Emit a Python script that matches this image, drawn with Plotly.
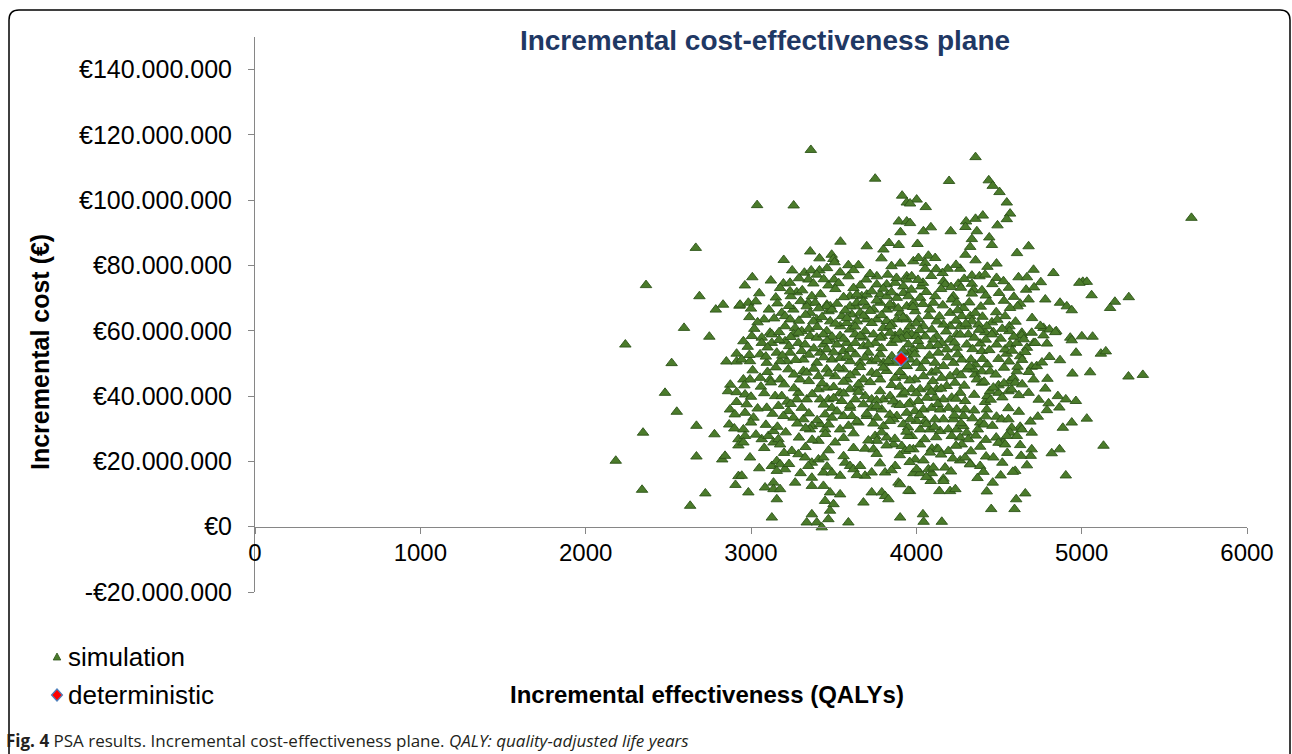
import plotly.graph_objects as go

# ---------------- data ----------------
# Incremental effectiveness (QALYs) and incremental cost (million EUR) of PSA simulations
sim_qaly = [
    2666, 2365, 2688, 2787, 2831, 2930, 2595, 2748,
    2240, 2520, 2851, 2913, 2913, 2480, 2551, 2875, 2861, 2913, 2913, 2873, 2902, 2670, 2779, 2868, 2899, 2924, 2924, 2347, 2182, 2670, 2826, 2843, 2924, 2906, 2341, 2724, 2632,
    5664, 5007, 5031, 5060, 5201, 5172, 5285, 5001, 5066, 5116, 5146, 5051, 5283, 5370, 5031, 5132,
    3362, 3751, 3037, 3258, 3914, 3942, 3894, 3942, 3904, 3541, 3700, 3801, 3835, 3894, 3789, 3902, 3198, 3358, 3414, 3488, 3498, 3249, 3323, 3364, 3414, 3398, 3505, 3589, 3650, 3539, 3008, 2963, 3347, 3377, 3468, 3502, 3589, 3196, 3236, 3696, 3761, 3827, 3942, 3176, 3277, 3241,
    2934, 2984, 3029, 3108, 3079, 3186, 3206, 3256, 3237, 3347, 3388, 3358, 3398, 3377, 3459, 3479, 3469, 3479, 3549, 3610, 3630, 3670, 3700, 3640, 3730, 3761, 3821, 3872, 3922, 3942,
    3236, 3368, 3599, 3640, 3781, 3821, 3882, 3922, 3952, 3337, 3458, 3489, 3599, 3640, 3660, 3700, 3741, 3781, 3821, 3862, 3902, 3942, 3700, 3761, 3821, 3882, 3942, 3115, 3206, 3267, 3307, 3458, 3599, 3690, 3801, 3872, 3942, 3539, 3579,
    4358, 4198, 4438, 4462, 4503, 4547, 4567, 4547, 4002, 4057, 3962, 4358, 4402, 4301, 4297, 4491, 4043, 4088, 4208, 4366, 3962, 4007, 4336, 4441, 4457, 4326, 4609, 4679, 4297, 4358, 4073, 4114, 3982, 4013, 4053, 4053, 4485, 4190, 4265, 4158, 3972, 4336, 4382, 4416, 4485, 4527, 4618, 4669, 4709, 4829, 4753, 4164, 4174, 4254, 4030, 4040, 4336, 4346, 4397, 4336, 4664, 4712, 4679, 4780, 4628, 4612, 4567, 4483, 4869, 4910, 4940, 4986, 4537, 4457, 4563, 4563, 4416, 4466, 4638, 4698, 4769, 4805, 4846, 4931,
    4224, 4214, 4244, 4285, 4204, 4275, 4326, 4356, 4336, 4376, 4305, 4265, 4204, 4164, 4124, 4073, 4083, 4103, 4114, 4023, 3982, 3993, 4013, 4043, 4094, 3962, 3972, 4053, 4124, 4244, 4315, 4426,
    4940, 4966, 4869, 4805, 4944, 4793, 4709, 4780, 4679, 4856, 4904, 4965, 4800, 4790, 4865, 4735, 4940, 4886, 4698, 4628, 4638, 4557, 4485, 4516, 4557, 4577, 4567, 4608, 4483, 4527, 4497, 4547, 4628, 4698, 4692, 4634, 4669, 4866, 4819, 4904, 4598, 4584, 4510, 4462, 4426, 4604, 4659, 4594, 4453, 4040, 4044, 4154, 4386, 4422, 4466, 4386, 4406, 4326, 4265, 4221, 4194, 4094, 4124, 3993, 4043, 3982, 4023, 4094, 4087, 4164, 4164, 4139, 4204, 4236, 3962,
    4386, 4372, 4410, 4537, 4426, 4416, 4430, 4446, 4497, 4557, 4577, 4567, 4588, 4598, 4608, 4628, 4669, 4709, 4659, 4612, 4698, 4728, 4547, 4497, 4537, 4567, 4608, 4638, 4719, 4769, 4790, 4840,
    4356, 4366, 4396, 4396, 4430, 4446, 4497, 4466, 4356, 4346, 4386, 4396, 4441, 4457, 4485,
    4002, 4103, 4154, 4204, 4265, 4305, 4244, 4184, 4133, 4083, 4023, 3982, 3962, 4002, 4053, 4113, 4164, 4224, 4275, 4305, 4244, 4204, 4154, 4093, 4043, 3992, 3972, 4023, 4073, 4123, 4184, 4234, 4265, 4214, 4295, 4164, 4113, 4063, 4012, 3962, 3992, 4043, 4093, 4144, 4194, 4244, 4295, 4285, 4224, 4164, 4113, 4053, 4002, 3962, 4023, 4083, 4144, 4194, 4244, 4285, 4305, 4265, 4214, 4315, 4275, 4133, 4083, 4023, 3972, 3982, 4073, 4002, 4103, 4295, 4325, 4174,
    2954, 3005, 3065, 3065, 3126, 3126, 3206, 3257, 3287, 3287, 3357, 3327, 3398, 3438, 3438, 3478, 3539, 3519, 3579, 3630, 3630, 3680, 3680, 3741, 3751, 3791, 3841, 3852, 3902, 3942, 3952,
    2944, 2994, 3055, 3095, 3156, 3216, 3176, 3236, 3307, 3317, 3398, 3418, 3458, 3489, 3539, 3559, 3599, 3630, 3660, 3710, 3730, 3781, 3801, 3852, 3862, 3942, 3952,
    2954, 2994, 3055, 3115, 3176, 3226, 3317, 3337, 3297, 3408, 3458, 3509, 3559, 3579, 3630, 3680, 3730, 3781, 3821, 3872, 3922,
    2964, 2974, 3146, 3186, 3095, 3166, 3226, 3287, 3277, 3337, 3307, 3408, 3458, 3418, 3468, 3489, 3539, 3549, 3599, 3650, 3630, 3599, 3690, 3680, 3730, 3730, 3781, 3801, 3791, 3841, 3882, 3912, 3952, 3942, 3882,
    2964, 3015, 3196, 3257, 3317, 3368, 3418, 3448, 3448, 3489, 3539, 3559, 3610, 3650, 3700, 3761, 3801, 3862, 3922,
    2954, 2964, 2954, 3065, 3105, 3136, 3166, 3176, 3136, 3357, 3408, 3509, 3751, 3761, 3821, 3862, 3912, 3932, 3952, 3690, 3741,
    2994, 2944, 3126, 3156, 3176, 3206, 3156, 3247, 3287, 3327, 3368, 3347, 3408, 3438, 3438, 3489, 3539, 3569, 3599, 3620, 3660, 3690, 3730, 3811, 3872, 3892, 3902,
    2984, 3085, 3136, 3136, 3176, 3156, 3267, 3368, 3368, 3438, 3448, 3478, 3499, 3539, 3478, 3368, 3337, 3398, 3428, 3468, 3589, 3680, 3730, 3791, 3811, 3831, 3902, 3952, 3126,
    # dense core, estimated from the overview
    3460, 3620, 3850, 4120, 4240, 4430,
    3120, 3290, 3440, 3530, 3660, 3720, 3880, 4010, 4090, 4210, 4290, 4460, 4560,
    3050, 3150, 3310, 3420, 3510, 3560, 3620, 3800, 3850, 3970, 4060, 4150, 4270, 4420, 4500, 4590,
    3000, 3160, 3230, 3300, 3410, 3520, 3570, 3680, 3720, 3760, 3840, 3890, 3980, 4040, 4160, 4250, 4320, 4390, 4440, 4530,
    2990, 3040, 3140, 3290, 3330, 3430, 3510, 3580, 3680, 3730, 3790, 3850, 3920, 4000, 4140, 4240, 4300, 4400, 4490, 4600, 4700,
    3020, 3170, 3240, 3350, 3400, 3490, 3630, 3660, 3780, 3840, 3910, 4020, 4180, 4350, 4380, 4520, 4590, 4750,
    2980, 3100, 3170, 3230, 3380, 3460, 3560, 3600, 3710, 3790, 3880, 3920, 4010, 4130, 4230, 4340, 4420, 4510, 4580, 4650,
    2990, 3090, 3190, 3270, 3350, 3440, 3500, 3580, 3690, 3760, 3830, 3990, 4080, 4190, 4250, 4330, 4400, 4560, 4640, 4760,
    3010, 3100, 3150, 3260, 3380, 3470, 3530, 3600, 3660, 3760, 3800, 3900, 3940, 4030, 4120, 4270, 4320, 4480, 4530, 4680,
    2960, 3060, 3120, 3200, 3260, 3350, 3430, 3500, 3560, 3650, 3720, 3850, 3900, 3960, 4100, 4150, 4290, 4410, 4530, 4640,
    3000, 3080, 3220, 3370, 3500, 3560, 3650, 3760, 3860, 3930, 4000, 4090, 4240, 4350, 4450, 4520, 4620, 4740,
    3040, 3130, 3240, 3350, 3440, 3520, 3600, 3700, 3760, 3840, 3900, 4020, 4130, 4230, 4350, 4420, 4620,
    3000, 3090, 3160, 3280, 3330, 3400, 3470, 3590, 3640, 3740, 3840, 3950, 4060, 4110, 4270, 4340, 4460, 4690,
    3030, 3210, 3290, 3370, 3450, 3560, 3620, 3710, 3790, 3870, 3940, 4050, 4120, 4360, 4420,
    3080, 3200, 3330, 3470, 3560, 3620, 3760, 3820, 3900, 3960, 4150, 4240, 4330, 4550,
    3050, 3230, 3300, 3460, 3640, 3780, 3850, 3960, 4060, 4210, 4370, 4520,
]
sim_cost_m = [
    85.4, 74.0, 70.6, 66.5, 68.0, 67.7, 60.9, 58.2,
    55.8, 50.1, 50.6, 50.6, 53.0, 41.0, 35.2, 43.5, 41.5, 41.2, 38.2, 35.9, 34.4, 30.9, 28.3, 31.3, 30.1, 26.8, 24.9, 28.8, 20.2, 21.5, 20.6, 21.7, 15.5, 12.8, 11.3, 10.2, 6.4,
    94.6, 75.0, 75.0, 70.9, 68.9, 67.0, 70.3, 58.3, 58.2, 53.0, 53.7, 47.3, 46.0, 46.5, 33.1, 24.8,
    115.4, 106.6, 98.5, 98.4, 101.4, 99.3, 93.5, 93.5, 90.2, 87.3, 85.9, 84.9, 86.9, 86.3, 82.2, 80.6, 81.7, 84.3, 82.2, 83.3, 82.0, 78.5, 77.8, 78.5, 78.5, 77.2, 81.0, 80.1, 80.1, 77.9, 76.4, 73.9, 75.7, 74.5, 73.9, 75.7, 76.7, 74.5, 74.7, 75.7, 76.7, 77.2, 76.7, 73.1, 71.8, 70.6,
    68.0, 68.6, 69.0, 66.5, 63.5, 65.5, 64.5, 66.5, 63.5, 68.6, 68.6, 65.5, 63.5, 62.9, 68.0, 67.5, 66.0, 62.9, 64.5, 65.0, 67.5, 70.6, 71.1, 62.9, 72.1, 74.2, 74.2, 74.7, 73.6, 75.7,
    72.1, 70.6, 70.6, 71.1, 71.1, 70.6, 70.1, 71.6, 70.6, 67.5, 67.5, 66.5, 67.5, 68.6, 65.5, 67.5, 66.5, 68.6, 66.5, 67.5, 65.5, 67.5, 63.5, 63.5, 63.0, 63.5, 63.5, 59.4, 61.4, 60.9, 59.9, 59.9, 60.4, 59.9, 60.9, 58.4, 59.9, 61.4, 62.4,
    113.2, 105.9, 106.1, 104.4, 102.5, 99.3, 95.9, 94.2, 100.2, 97.9, 99.0, 94.3, 95.3, 93.5, 91.8, 92.3, 90.5, 91.7, 90.5, 90.5, 93.0, 86.6, 88.1, 88.6, 86.3, 85.7, 83.8, 85.9, 83.3, 81.6, 83.0, 82.3, 81.3, 82.3, 80.8, 79.0, 80.6, 79.0, 79.0, 77.7, 76.7, 76.9, 76.7, 77.2, 76.2, 75.2, 76.4, 76.4, 78.7, 77.7, 74.9, 75.2, 74.2, 74.4, 73.6, 74.7, 74.4, 72.6, 72.4, 71.4, 72.6, 73.3, 69.6, 69.6, 68.3, 67.5, 67.0, 65.7, 68.6, 67.5, 66.3, 74.7, 64.5, 62.6, 61.4, 59.9, 59.6, 59.6, 59.4, 59.4, 60.9, 60.4, 59.9, 57.9,
    70.6, 69.6, 68.6, 67.0, 65.5, 64.5, 64.5, 65.5, 62.9, 61.9, 61.4, 61.4, 61.4, 61.9, 62.9, 64.5, 66.5, 68.6, 70.6, 70.1, 68.6, 66.0, 63.5, 61.4, 60.4, 61.4, 58.9, 58.3, 58.3, 58.9, 58.9, 61.4,
    57.1, 53.3, 51.0, 52.0, 46.9, 45.3, 45.1, 42.3, 41.0, 40.0, 39.0, 38.5, 37.8, 35.7, 36.5, 33.7, 31.9, 30.3, 28.8, 30.6, 29.8, 36.3, 33.7, 32.9, 32.9, 30.3, 28.8, 27.8, 27.3, 25.7, 25.7, 27.8, 25.0, 23.7, 21.7, 21.7, 18.8, 23.7, 22.5, 15.7, 17.1, 16.8, 15.7, 13.5, 10.8, 8.4, 10.2, 5.4, 5.4, 3.8, 1.5, 1.5, 24.5, 21.5, 21.2, 18.6, 16.8, 19.3, 20.3, 20.9, 23.2, 23.9, 23.9, 20.6, 20.3, 16.4, 16.4, 16.4, 14.0, 14.7, 14.0, 10.9, 10.9, 11.5, 10.9,
    31.9, 29.8, 31.3, 25.2, 35.9, 38.2, 40.0, 41.5, 41.0, 41.5, 42.0, 44.6, 45.6, 44.1, 47.6, 52.2, 54.8, 56.3, 53.5, 49.0, 49.0, 49.2, 53.0, 51.4, 54.3, 55.8, 56.3, 58.6, 56.3, 58.6, 56.1, 59.6,
    46.6, 45.1, 47.6, 44.1, 49.7, 47.6, 43.3, 42.6, 49.7, 48.2, 56.1, 53.8, 54.1, 58.9, 55.8,
    58.4, 57.3, 56.3, 57.3, 58.9, 55.8, 54.8, 54.3, 53.3, 55.3, 55.3, 54.3, 51.2, 50.2, 50.7, 50.2, 49.2, 50.2, 51.2, 48.2, 47.2, 46.1, 45.6, 47.2, 46.1, 45.1, 42.1, 42.1, 42.6, 42.1, 43.1, 44.1, 41.0, 39.5, 38.5, 39.0, 39.5, 39.5, 38.5, 38.0, 35.4, 35.9, 36.4, 35.9, 36.4, 35.9, 35.9, 33.9, 32.9, 32.9, 32.9, 32.4, 32.4, 32.9, 29.8, 29.8, 29.3, 29.8, 29.8, 30.8, 28.8, 27.3, 27.8, 26.8, 25.2, 23.7, 22.7, 25.2, 27.8, 23.7, 17.6, 17.6, 18.1, 21.2, 19.1, 18.1,
    56.8, 58.4, 57.9, 56.3, 58.9, 56.3, 56.8, 58.9, 56.3, 59.4, 58.4, 55.8, 57.9, 58.9, 55.8, 57.3, 58.4, 55.8, 56.3, 58.9, 56.3, 57.9, 55.3, 58.9, 56.3, 58.4, 59.4, 56.3, 59.4, 58.4, 55.8,
    51.2, 50.7, 52.8, 50.2, 53.3, 50.7, 50.7, 53.3, 53.8, 51.2, 50.2, 53.3, 54.3, 51.2, 51.7, 53.8, 50.7, 52.8, 50.2, 53.3, 50.7, 52.8, 50.2, 52.2, 50.2, 49.2, 53.3,
    45.1, 45.1, 45.6, 45.1, 45.1, 48.2, 47.7, 47.2, 45.1, 46.1, 48.2, 46.1, 48.2, 45.1, 47.2, 45.1, 47.2, 45.1, 47.7, 45.6, 46.1,
    40.5, 37.5, 40.0, 40.0, 36.4, 37.0, 35.4, 41.0, 39.0, 39.0, 36.4, 42.1, 42.6, 39.0, 39.0, 36.4, 41.0, 38.5, 42.1, 42.6, 39.0, 36.4, 40.0, 37.5, 39.0, 36.4, 41.5, 39.0, 35.9, 40.0, 37.5, 40.5, 37.5, 34.9, 33.9,
    34.9, 33.4, 33.9, 33.4, 32.9, 30.8, 31.4, 34.4, 29.8, 33.4, 29.8, 33.9, 33.9, 31.9, 33.9, 33.4, 30.8, 32.9, 31.4,
    29.8, 27.8, 25.8, 26.8, 27.8, 25.8, 26.8, 25.2, 29.3, 29.8, 26.3, 25.8, 27.8, 26.3, 27.3, 25.2, 24.7, 23.2, 27.8, 23.9, 23.7,
    21.2, 15.6, 18.6, 20.1, 19.1, 17.6, 17.1, 23.2, 22.2, 21.2, 19.6, 18.6, 20.6, 21.2, 16.6, 16.6, 15.6, 19.6, 18.6, 17.6, 18.6, 15.6, 16.6, 16.6, 18.6, 13.5, 13.0,
    10.5, 12.0, 13.5, 11.5, 11.5, 8.4, 13.5, 15.0, 12.5, 12.5, 7.9, 10.5, 6.9, 9.9, 4.9, 3.8, 1.3, 1.3, -0.2, 2.3, 1.3, 7.4, 10.5, 10.5, 9.4, 8.4, 2.8, 11.0, 2.8,
    # dense core, estimated from the overview
    79.2, 78.6, 79.8, 78.9, 80.2, 79.6,
    75.4, 76.1, 75.8, 74.6, 73.9, 77.4, 76.2, 75.6, 76.8, 73.4, 75.9, 74.3, 73.2,
    71.5, 70.2, 72.4, 71.2, 72.8, 70.3, 73.1, 72.9, 71.8, 72.6, 71.9, 72.8, 73.2, 70.8, 71.6, 70.4,
    66.8, 68.4, 67.6, 69.1, 66.9, 68.3, 66.2, 68.9, 66.1, 69.3, 68.1, 66.9, 67.3, 68.2, 67.8, 66.3, 68.7, 67.4, 68.9, 69.2,
    64.2, 62.6, 63.8, 63.1, 64.9, 64.2, 62.2, 63.9, 64.6, 62.4, 64.8, 62.1, 64.1, 62.3, 64.4, 63.1, 62.2, 64.3, 63.4, 62.8, 63.9,
    60.6, 59.6, 58.1, 60.6, 61.2, 58.2, 61.3, 58.4, 57.9, 61.4, 57.6, 60.2, 59.8, 57.9, 60.3, 60.6, 58.2, 61.5,
    55.1, 54.9, 57.2, 55.3, 54.6, 56.9, 57.6, 54.4, 55.8, 54.7, 57.3, 53.9, 56.9, 55.6, 56.4, 54.4, 57.3, 57.6, 53.9, 57.4,
    52.6, 52.1, 52.4, 51.1, 52.7, 51.9, 53.4, 52.1, 51.8, 51.2, 50.7, 52.8, 52.4, 51.9, 52.8, 51.2, 51.4, 50.6, 51.1, 50.3,
    47.9, 47.4, 48.8, 46.6, 48.4, 46.9, 48.6, 46.4, 48.9, 46.8, 48.7, 47.4, 49.3, 48.6, 47.8, 46.4, 49.1, 46.6, 48.7, 47.4,
    43.3, 42.9, 44.2, 43.6, 42.4, 44.6, 43.9, 42.8, 44.4, 43.6, 44.3, 43.4, 42.9, 44.8, 44.6, 42.3, 43.2, 44.4, 43.9, 43.6,
    39.8, 40.9, 38.3, 40.6, 39.4, 40.8, 41.3, 38.7, 38.4, 41.1, 40.9, 41.3, 39.2, 40.4, 38.9, 39.6, 40.3, 38.9,
    36.2, 34.6, 37.6, 34.7, 37.4, 35.3, 37.1, 34.6, 36.9, 34.3, 37.3, 34.2, 37.6, 34.1, 35.6, 33.8, 35.2,
    31.9, 31.2, 30.6, 31.6, 30.2, 32.6, 31.3, 30.9, 32.3, 31.6, 32.4, 30.4, 31.4, 30.6, 31.7, 33.2, 30.9, 32.2,
    28.2, 28.9, 27.3, 26.6, 28.4, 27.2, 28.6, 26.4, 28.9, 26.9, 29.1, 26.8, 27.4, 27.9, 26.6,
    24.1, 22.6, 24.4, 23.4, 21.6, 24.1, 22.3, 24.9, 21.9, 23.8, 22.1, 24.8, 23.1, 22.6,
    17.9, 19.2, 16.4, 18.4, 15.8, 19.4, 17.3, 19.8, 15.2, 16.9, 14.9, 19.6,
]

# deterministic result
det_qaly = [3908]
det_cost_m = [51.4]

# axis ticks
x_ticks = [0, 1000, 2000, 3000, 4000, 5000, 6000]
y_ticks_m = [-20, 0, 20, 40, 60, 80, 100, 120, 140]
y_tick_labels = ["-€20.000.000", "€0", "€20.000.000", "€40.000.000", "€60.000.000",
                 "€80.000.000", "€100.000.000", "€120.000.000", "€140.000.000"]
legend_names = ["simulation", "deterministic"]

# ---------------- figure ----------------
W, H = 1292, 754
ML, MR, MT, MB = 255, 45, 37, 162
PW, PH = W - ML - MR, H - MT - MB
FONT = "Arial, 'Liberation Sans', sans-serif"
GREEN, GREEN_EDGE = "#4B7B2B", "#2D5419"
RED, BLUE_EDGE = "#FF0000", "#4F81BD"


def px_x(px):
    return (px - ML) / PW


def px_y(py):
    return (H - MB - py) / PH


fig = go.Figure()
fig.add_trace(go.Scatter(
    x=sim_qaly, y=sim_cost_m, mode="markers", name=legend_names[0],
    marker=dict(symbol="triangle-up", size=10, color=GREEN,
                line=dict(color=GREEN_EDGE, width=0.9)),
))
fig.add_trace(go.Scatter(
    x=det_qaly, y=det_cost_m, mode="markers", name=legend_names[1],
    marker=dict(symbol="diamond", size=11, color=RED,
                line=dict(color=BLUE_EDGE, width=1.5)),
))

y_min, y_max = -20, 150
fig.update_layout(
    width=W, height=H, autosize=False,
    margin=dict(l=ML, r=MR, t=MT, b=MB),
    paper_bgcolor="white", plot_bgcolor="white",
    font=dict(family=FONT, color="black"),
    showlegend=False,
    xaxis=dict(range=[0, 6000], tickvals=x_ticks, ticktext=[str(v) for v in x_ticks],
               showgrid=False, zeroline=False, showline=True, linecolor="#868686",
               linewidth=1, ticks="outside", ticklen=6, tickcolor="#868686",
               tickfont=dict(family=FONT, size=24, color="black"),
               anchor="free", position=(0 - y_min) / (y_max - y_min),
               ticklabelstandoff=-2),
    yaxis=dict(range=[y_min, y_max], tickvals=y_ticks_m, ticktext=y_tick_labels,
               showgrid=False, zeroline=False, showline=True, linecolor="#868686",
               linewidth=1, ticks="outside", ticklen=6, tickcolor="#868686",
               tickfont=dict(family=FONT, size=25, color="black"),
               ticklabelstandoff=11),
    title=dict(text="<b>Incremental cost-effectiveness plane</b>",
               font=dict(family=FONT, size=28, color="#1F3864"),
               xref="paper", x=px_x(765), xanchor="center",
               yref="container", y=1 - 40 / H, yanchor="middle"),
)

# axis titles
fig.add_annotation(text="<b>Incremental effectiveness (QALYs)</b>", xref="paper", yref="paper",
                   x=px_x(707), y=px_y(695), xanchor="center", yanchor="middle",
                   showarrow=False, font=dict(family=FONT, size=24, color="black"))
fig.add_annotation(text="<b>Incremental cost (€)</b>", xref="paper", yref="paper",
                   x=px_x(40), y=px_y(352), xanchor="center", yanchor="middle",
                   textangle=-90, showarrow=False,
                   font=dict(family=FONT, size=25, color="black"))

# legend (drawn by hand to match the compact original placement)
tri_cx, tri_cy = 57, 657
fig.add_shape(type="path", xref="paper", yref="paper",
              path=(f"M {px_x(tri_cx)},{px_y(tri_cy - 4)} L {px_x(tri_cx + 3.8)},{px_y(tri_cy + 3)} "
                    f"L {px_x(tri_cx - 3.8)},{px_y(tri_cy + 3)} Z"),
              fillcolor=GREEN, line=dict(color=GREEN_EDGE, width=0.8))
dia_cx, dia_cy = 57, 695
fig.add_shape(type="path", xref="paper", yref="paper",
              path=(f"M {px_x(dia_cx)},{px_y(dia_cy - 6)} L {px_x(dia_cx + 5.5)},{px_y(dia_cy)} "
                    f"L {px_x(dia_cx)},{px_y(dia_cy + 6)} L {px_x(dia_cx - 5.5)},{px_y(dia_cy)} Z"),
              fillcolor=RED, line=dict(color=BLUE_EDGE, width=1.2))
for name, cy in zip(legend_names, [tri_cy, dia_cy]):
    fig.add_annotation(text=name, xref="paper", yref="paper", x=px_x(66), y=px_y(cy),
                       xanchor="left", yanchor="middle", showarrow=False,
                       font=dict(family=FONT, size=26, color="black"))

# caption
fig.add_annotation(
    text="<b>Fig. 4</b> PSA results. Incremental cost-effectiveness plane. "
         "<i>QALY: quality-adjusted life years</i>",
    xref="paper", yref="paper", x=px_x(4), y=px_y(740), xanchor="left", yanchor="middle",
    showarrow=False, font=dict(family="'Open Sans', 'Noto Sans', sans-serif", size=17, color="#231F20"))

# outer rounded frame
x0, x1, y0, y1, r = px_x(9), px_x(1290), px_y(10), px_y(754), 10
fig.add_shape(
    type="path", xref="paper", yref="paper",
    path=(f"M {x0},{y1} L {x0},{px_y(10 + r)} Q {x0},{y0} {px_x(9 + r)},{y0} "
          f"L {px_x(1290 - r)},{y0} Q {x1},{y0} {x1},{px_y(10 + r)} L {x1},{y1}"),
    line=dict(color="black", width=1.5),
)

fig.write_html("out.html", config={"displayModeBar": False},
               post_script="document.body.style.margin='0';")
